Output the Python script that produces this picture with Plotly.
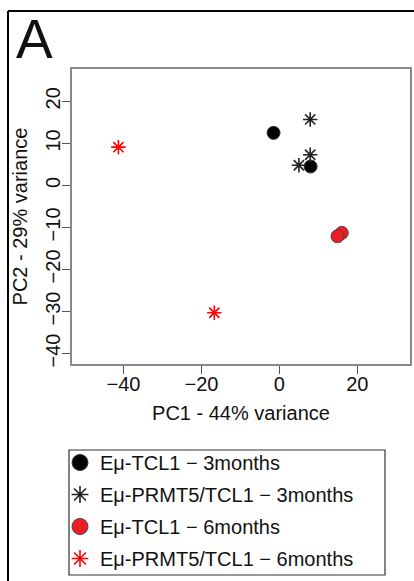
import plotly.graph_objects as go

# ---- data ----
groups = ["Eμ-TCL1 − 3months", "Eμ-PRMT5/TCL1 − 3months",
          "Eμ-TCL1 − 6months", "Eμ-PRMT5/TCL1 − 6months"]
pc1_tcl1_3m = [-1.5, 8.0]
pc2_tcl1_3m = [12.5, 4.5]
pc1_prmt5_3m = [7.9, 7.9, 5.0]
pc2_prmt5_3m = [15.7, 7.3, 4.8]
pc1_tcl1_6m = [16.0, 14.9]
pc2_tcl1_6m = [-11.3, -12.1]
pc1_prmt5_6m = [-41.3, -16.7]
pc2_prmt5_6m = [9.1, -30.3]
x_ticks = [-40, -20, 0, 20]
y_ticks = [-40, -30, -20, -10, 0, 10, 20]

W, H = 414, 581
L, R, T, B = 72, 4, 69, 217
PW, PH = W - L - R, H - T - B

def px(p):
    return (p - L) / PW

def py(p):
    return (H - B - p) / PH

FONT = "Liberation Sans, Arial, sans-serif"

styles = [
    dict(symbol="circle", color="black", line=dict(color="#333333", width=1)),
    dict(symbol="asterisk-open", color="#222222", line=dict(color="#222222", width=1.6)),
    dict(symbol="circle", color="#ee1c24", line=dict(color="#444444", width=1)),
    dict(symbol="asterisk-open", color="#ff0000", line=dict(color="#ff0000", width=1.6)),
]
sizes = [13, 12, 13, 12]
legend_sizes = [16, 14, 16, 14]
xs = [pc1_tcl1_3m, pc1_prmt5_3m, pc1_tcl1_6m, pc1_prmt5_6m]
ys = [pc2_tcl1_3m, pc2_prmt5_3m, pc2_tcl1_6m, pc2_prmt5_6m]

fig = go.Figure()
for i in range(4):
    fig.add_trace(go.Scatter(x=xs[i], y=ys[i], mode="markers", name=groups[i],
                             showlegend=False, legendgroup=f"g{i}",
                             marker=dict(size=sizes[i], **styles[i])))
for i in range(4):
    fig.add_trace(go.Scatter(x=[None], y=[None], mode="markers", name=groups[i],
                             showlegend=True, legendgroup=f"g{i}",
                             marker=dict(size=legend_sizes[i], **styles[i])))

axis_common = dict(showgrid=False, zeroline=False, showline=True, mirror=True,
                   linecolor="#888888", linewidth=1.5, ticks="outside", ticklen=8,
                   tickcolor="#555555", tickwidth=1.2,
                   tickfont=dict(family=FONT, size=20, color="#111111"))

fig.update_xaxes(range=[-53.2, 33.5], tickvals=x_ticks, ticklabelstandoff=-7, **axis_common,
                 title=dict(text="PC1 - 44% variance", standoff=12,
                            font=dict(family=FONT, size=20, color="#111111")))
fig.update_yaxes(range=[-42.5, 27.7], tickvals=y_ticks, tickangle=-90, ticklabelstandoff=-6,
                 **axis_common,
                 title=dict(text="PC2 - 29% variance", standoff=9,
                            font=dict(family=FONT, size=20, color="#111111")))

shapes = [
    # outer panel frame (left and top)
    dict(type="line", xref="paper", yref="paper", x0=px(8), x1=px(8), y0=py(H), y1=py(11),
         line=dict(color="black", width=2)),
    dict(type="line", xref="paper", yref="paper", x0=px(8), x1=px(W), y0=py(11), y1=py(11),
         line=dict(color="black", width=2)),
    # legend box
    dict(type="rect", xref="paper", yref="paper", x0=px(69), x1=px(385), y0=py(450), y1=py(575),
         line=dict(color="#333333", width=1.2)),
]

fig.update_layout(
    width=W, height=H, margin=dict(l=L, r=R, t=T, b=B, autoexpand=False),
    paper_bgcolor="white", plot_bgcolor="white",
    font=dict(family=FONT, color="#111111"),
    shapes=shapes,
    showlegend=True,
    legend=dict(x=px(60), y=py(443), xanchor="left", yanchor="top",
                bgcolor="rgba(0,0,0,0)", borderwidth=0,
                font=dict(family=FONT, size=20, color="#111111"),
                tracegroupgap=3),
    annotations=[dict(text="A", xref="paper", yref="paper", x=px(14), y=py(39),
                      xanchor="left", yanchor="middle", showarrow=False,
                      font=dict(family=FONT, size=55, color="#111111"))],
)

fig.write_html("out.html")
